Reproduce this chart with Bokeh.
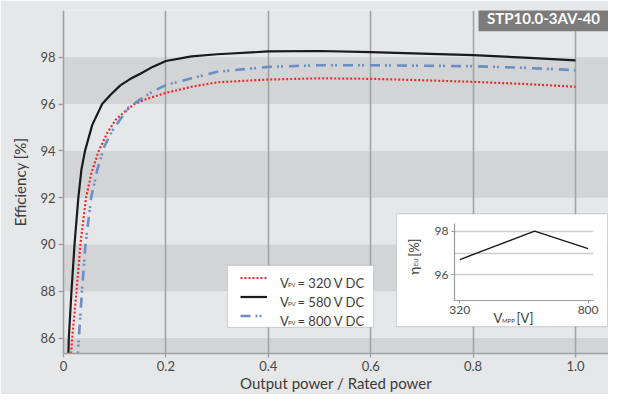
import math
from bokeh.plotting import figure
from bokeh.models import (Range1d, FixedTicker, BoxAnnotation, Label, Legend, LegendItem, Grid)
from bokeh.layouts import column
from bokeh.embed import file_html
from bokeh.resources import INLINE

# ---------------- data ----------------
x_320 = [0.0137, 0.017, 0.0254, 0.033, 0.044, 0.055, 0.069, 0.085, 0.1016, 0.118, 0.137, 0.16,
         0.2, 0.25, 0.3, 0.4, 0.5, 0.6, 0.7, 0.8, 0.9, 1.0]
y_320 = [85.0, 86.0, 88.0, 90.0, 92.0, 93.1, 94.0, 94.75, 95.32, 95.65, 95.98, 96.2,
         96.48, 96.74, 96.93, 97.05, 97.1, 97.08, 97.02, 96.95, 96.86, 96.74]

x_580 = [0.0092, 0.0104, 0.0156, 0.0215, 0.029, 0.035, 0.042, 0.056, 0.0755, 0.092, 0.111, 0.13,
         0.15, 0.175, 0.2, 0.25, 0.3, 0.4, 0.5, 0.6, 0.7, 0.8, 0.9, 1.0]
y_580 = [85.0, 86.0, 88.0, 90.0, 92.0, 93.2, 94.0, 95.1, 96.0, 96.4, 96.8, 97.07,
         97.3, 97.6, 97.84, 98.04, 98.13, 98.25, 98.27, 98.22, 98.16, 98.09, 97.99, 97.87]

x_800 = [0.027, 0.030, 0.036, 0.043, 0.054, 0.066, 0.08, 0.095, 0.11, 0.127, 0.15, 0.175,
         0.2, 0.25, 0.3, 0.4, 0.5, 0.6, 0.7, 0.8, 0.9, 1.0]
y_800 = [85.0, 86.0, 88.0, 90.0, 92.0, 93.2, 94.2, 94.85, 95.32, 95.85, 96.2, 96.55,
         96.81, 97.1, 97.38, 97.59, 97.66, 97.66, 97.64, 97.62, 97.55, 97.45]

series_labels = ["320 V DC", "580 V DC", "800 V DC"]
x_ticks = [0, 0.2, 0.4, 0.6, 0.8, 1.0]
x_tick_labels = ["0", "0.2", "0.4", "0.6", "0.8", "1.0"]
y_ticks = [86, 88, 90, 92, 94, 96, 98]
band_bottoms = [84, 88, 92, 96]
band_tops = [86, 90, 94, 98]
title_text = "STP10.0-3AV-40"

inset_v = [320, 600, 800]
inset_eta = [96.7, 98.0, 97.2]
inset_x_ticks = [320, 800]
inset_y_ticks = [96, 98]
inset_grid_ticks = [96, 97, 98]

# ---------------- style ----------------
FONT = "Lato"
BG = "#e6e7e9"
BAND = "#d3d4d6"
GRID = "#a4a4a4"
AXIS = "#a0a0a0"
TXT = "#3c3c3c"

W, H = 608, 394              # figure size; geometry below is in figure pixels
FX0, FX1 = 63, 575           # pixel of x = 0 and x = 1.0
FY100 = 10                   # pixel of y = 100 (frame top)
PX_PER_Y = 352 / 15.0
FRAME_BOTTOM = 354
PX_PER_X = FX1 - FX0


def dx(px):
    return (px - FX0) / PX_PER_X


def dy(py):
    return 100 - (py - FY100) / PX_PER_Y


p = figure(width=W, height=H, output_backend="svg", toolbar_location=None,
           x_range=Range1d(0, dx(W)), y_range=Range1d(dy(FRAME_BOTTOM), 100),
           min_border_left=FX0, min_border_right=0, min_border_top=FY100,
           min_border_bottom=H - FRAME_BOTTOM, frame_align=False,
           background_fill_color=BG, border_fill_color=BG, outline_line_color=None)
p.grid.visible = False

for b, t in zip(band_bottoms, band_tops):
    p.add_layout(BoxAnnotation(bottom=b, top=t, fill_color=BAND, fill_alpha=1.0,
                               line_alpha=0, level="underlay"))

vgrid = Grid(dimension=0, ticker=FixedTicker(ticks=x_ticks[1:]), grid_line_color=GRID,
             grid_line_width=1.6, level="underlay")
p.add_layout(vgrid)

r320 = p.line(x_320, y_320, line_color="#ee2b30", line_width=2.2, line_dash="2 2")
r580 = p.line(x_580, y_580, line_color="#1a1a1a", line_width=2.2)
r800 = p.line(x_800, y_800, line_color="#6b8fc2", line_width=2.6, line_dash="10 5 2 2 2 6")

# axes
p.xaxis.ticker = FixedTicker(ticks=x_ticks)
p.xaxis.major_label_overrides = {t: l for t, l in zip(x_ticks, x_tick_labels)}
p.yaxis.ticker = FixedTicker(ticks=y_ticks)
for ax in (p.xaxis, p.yaxis):
    ax.axis_line_color = AXIS
    ax.axis_line_width = 1.6
    ax.major_tick_line_color = AXIS
    ax.major_tick_line_width = 1.4
    ax.major_tick_in = 0
    ax.minor_tick_line_color = None
    ax.major_label_text_font = FONT
    ax.major_label_text_font_size = "13px"
    ax.major_label_text_color = "#4a4a4a"
    ax.axis_label_text_font = FONT
    ax.axis_label_text_font_size = "15px"
    ax.axis_label_text_font_style = "normal"
    ax.axis_label_text_color = TXT
p.xaxis.major_tick_out = 4
p.yaxis.major_tick_out = 5
p.xaxis.major_label_standoff = 3
p.yaxis.major_label_standoff = 3
p.xaxis.axis_label = "Output power / Rated power"
p.yaxis.axis_label = "Efficiency [%]"
p.xaxis.axis_label_standoff = 0
p.yaxis.axis_label_standoff = 8

# title box
TB_L = 478
p.add_layout(BoxAnnotation(left=dx(TB_L), right=dx(W), top=dy(0), bottom=dy(30.7),
                           fill_color="#7b7b7b", fill_alpha=1.0, line_alpha=0))
p.add_layout(Label(x=dx((TB_L + W) / 2), y=dy(17.5), text=title_text, text_align="center",
                   text_baseline="middle", text_color="white", text_font=FONT,
                   text_font_style="bold", text_font_size="15px"))

# legend box
LEG_L, LEG_R, LEG_T, LEG_B = 227, 373, 265.7, 327.7
p.add_layout(BoxAnnotation(left=dx(LEG_L), right=dx(LEG_R), top=dy(LEG_T), bottom=dy(LEG_B),
                           fill_color="white", fill_alpha=1.0, line_color="#8e8e8e",
                           line_width=1.2))
ROW_H = 19.2
ROW0 = 278.0
legend = Legend(items=[LegendItem(label=" ", renderers=[r]) for r in (r320, r580, r800)],
                location=(240 - FX0, FRAME_BOTTOM - (ROW0 + 2 * ROW_H + ROW_H / 2)),
                glyph_width=27, glyph_height=int(round(ROW_H)), label_height=int(round(ROW_H)),
                label_width=1, label_standoff=0, spacing=0, padding=0, margin=0,
                label_text_font_size="1px", border_line_alpha=0, background_fill_alpha=0)
p.add_layout(legend, "center")
for i, lab in enumerate(series_labels):
    cy = ROW0 + i * ROW_H
    p.add_layout(Label(x=dx(279.5), y=dy(cy + 4.8), text="V", text_font=FONT,
                       text_font_size="13px", text_color=TXT, text_baseline="alphabetic"))
    p.add_layout(Label(x=dx(287.5), y=dy(cy + 6.5), text="PV", text_font=FONT,
                       text_font_size="6px", text_color=TXT, text_baseline="alphabetic"))
    p.add_layout(Label(x=dx(297), y=dy(cy + 4.8), text="= " + lab, text_font=FONT,
                       text_font_size="13px", text_color=TXT, text_baseline="alphabetic"))

# ---------------- inset ----------------
SH = -4                                               # keep the inset inside the canvas
IN_L, IN_R, IN_T, IN_B = 400 + SH, 611 + SH, 214, 327  # outer box
IF_L, IF_R, IF_T, IF_B = 458 + SH, 597 + SH, 223, 300  # inner frame

# inset box and its axis titles are drawn in the main plot (under the transparent inset)
p.add_layout(BoxAnnotation(left=dx(IN_L), right=dx(IN_R), top=dy(IN_T), bottom=dy(IN_B),
                           fill_color="white", fill_alpha=1.0, line_color="#8e8e8e",
                           line_width=1.2))
p.add_layout(Label(x=dx(497 + SH), y=dy(318.5), text="V", text_font=FONT, text_font_size="13px",
                   text_color=TXT, text_baseline="alphabetic"))
p.add_layout(Label(x=dx(505.5 + SH), y=dy(320.5), text="MPP", text_font=FONT, text_font_size="6px",
                   text_color=TXT, text_baseline="alphabetic"))
p.add_layout(Label(x=dx(520 + SH), y=dy(318.5), text="[V]", text_font=FONT, text_font_size="13px",
                   text_color=TXT, text_baseline="alphabetic"))
p.add_layout(Label(x=dx(416.5 + SH), y=dy(275), text="\u03b7", text_font=FONT, text_font_size="14px",
                   text_color=TXT, text_baseline="alphabetic", angle=math.pi / 2))
p.add_layout(Label(x=dx(419 + SH), y=dy(266.5), text="EU", text_font=FONT, text_font_size="6px",
                   text_color=TXT, text_baseline="alphabetic", angle=math.pi / 2))
p.add_layout(Label(x=dx(417.5 + SH), y=dy(257), text="[%]", text_font=FONT, text_font_size="13px",
                   text_color=TXT, text_baseline="alphabetic", angle=math.pi / 2))

V_PER_PX = (800 - 320) / 128.3
E_PER_PX = 1 / 21.8


def ix(px):
    return 320 + (px - (463.3 + SH)) * V_PER_PX


def iy(py):
    return 98 - (py - 230.7) * E_PER_PX


inset = figure(width=IN_R - IN_L, height=IN_B - IN_T, output_backend="svg", toolbar_location=None,
               x_range=Range1d(ix(IF_L), ix(IF_R)), y_range=Range1d(iy(IF_B), iy(IF_T)),
               min_border_left=IF_L - IN_L, min_border_right=IN_R - IF_R,
               min_border_top=IF_T - IN_T, min_border_bottom=IN_B - IF_B, frame_align=False,
               background_fill_alpha=0, border_fill_alpha=0, outline_line_color=None)
inset.xgrid.visible = False
inset.ygrid.ticker = FixedTicker(ticks=inset_grid_ticks)
inset.ygrid.grid_line_color = "#cfcfcf"
inset.ygrid.grid_line_width = 1.4
inset.line(inset_v, inset_eta, line_color="#1a1a1a", line_width=1.4)
inset.xaxis.ticker = FixedTicker(ticks=inset_x_ticks)
inset.yaxis.ticker = FixedTicker(ticks=inset_y_ticks)
for ax in (inset.xaxis, inset.yaxis):
    ax.axis_line_color = "#9a9a9a"
    ax.axis_line_width = 1.2
    ax.major_tick_line_color = "#9a9a9a"
    ax.major_tick_in = 0
    ax.major_tick_out = 3
    ax.minor_tick_line_color = None
    ax.major_label_text_font = FONT
    ax.major_label_text_font_size = "12px"
    ax.major_label_text_color = "#4a4a4a"
inset.xaxis.major_label_standoff = 2
inset.yaxis.major_label_standoff = 3

inset.styles = {"position": "absolute", "left": f"{IN_L}px", "top": f"{IN_T}px"}

layout = column(p, inset, width=W, height=H, sizing_mode="fixed",
                styles={"position": "relative", "overflow": "hidden"})

open("out.html", "w").write(file_html(layout, INLINE))
